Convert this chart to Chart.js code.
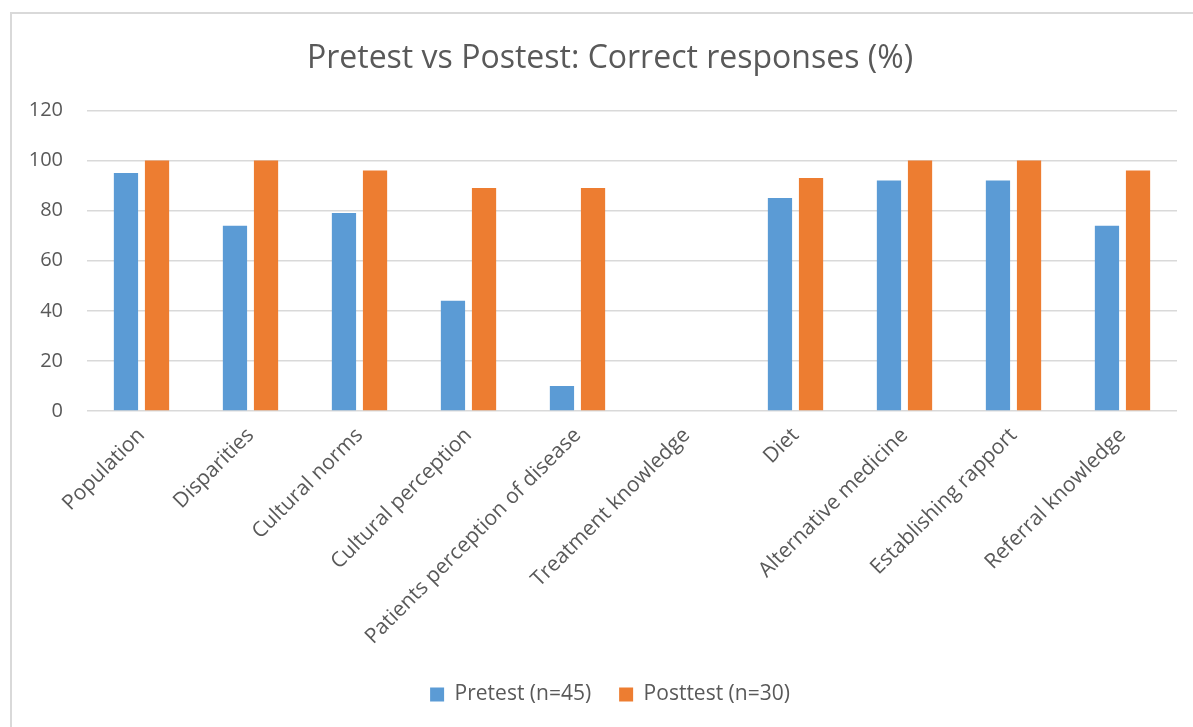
<!DOCTYPE html>
<html>
<head>
<meta charset="utf-8">
<script src="https://cdn.jsdelivr.net/npm/chart.js@4"></script>
<style>
  html, body { margin: 0; padding: 0; background: #fff; overflow: hidden; }
  #frame { position: absolute; left: 10px; top: 12px; width: 1300px; height: 800px;
           border-left: 2px solid #d9d9d9; border-top: 2px solid #d9d9d9; }
  #wrap { position: absolute; left: 10px; top: 0; width: 1200px; height: 727px; }
</style>
</head>
<body>
<div id="frame"></div>
<div id="wrap"><canvas id="chart"></canvas></div>
<script>
// categories and values
const categories = ['Population', 'Disparities', 'Cultural norms', 'Cultural perception',
  'Patients perception of disease', 'Treatment knowledge', 'Diet', 'Alternative medicine',
  'Establishing rapport', 'Referral knowledge'];
const pretest = [95, 74, 79, 44, 10, 0, 85, 92, 92, 74];
const posttest = [100, 100, 96, 89, 89, 0, 93, 100, 100, 96];
const yTicks = [0, 20, 40, 60, 80, 100, 120];

const grey = '#595959';

new Chart(document.getElementById('chart'), {
    type: 'bar',
    data: {
        labels: categories,
        datasets: [{
            label: 'Pretest (n=45)',
            data: pretest,
            backgroundColor: '#5b9bd5',
            categoryPercentage: 0.57,
            barPercentage: 0.78
        }, {
            label: 'Posttest (n=30)',
            data: posttest,
            backgroundColor: '#ed7d31',
            categoryPercentage: 0.57,
            barPercentage: 0.78
        }]
    },
    options: {
        responsive: true,
        maintainAspectRatio: false,
        animation: false,
        layout: { padding: { left: 0, right: 0, top: 0, bottom: 12 } },
        plugins: {
            title: {
                display: true,
                text: 'Pretest vs Postest: Correct responses (%)',
                color: grey,
                font: { family: 'Open Sans', size: 32, weight: 'normal' },
                padding: { top: 40, bottom: 32 }
            },
            legend: {
                position: 'bottom',
                labels: {
                    color: grey,
                    boxWidth: 14,
                    boxHeight: 14,
                    padding: 28,
                    font: { family: 'Open Sans', size: 21 }
                }
            },
            tooltip: { enabled: false }
        },
        scales: {
            x: {
                grid: { display: false },
                border: { display: false },
                afterFit: function(scale) { scale.height = 245; },
                ticks: {
                    color: grey,
                    maxRotation: 45,
                    minRotation: 45,
                    padding: 4,
                    font: { family: 'Open Sans', size: 21 }
                }
            },
            y: {
                min: 0,
                max: 120,
                afterBuildTicks: function(scale) {
                    scale.ticks = yTicks.map(v => ({ value: v }));
                },
                afterFit: function(scale) { scale.width = 77; },
                grid: { color: '#d9d9d9', lineWidth: 1.5, drawTicks: false },
                border: { display: false },
                ticks: {
                    color: grey,
                    padding: 24,
                    font: { family: 'Open Sans', size: 20 }
                }
            },
            // empty right-hand axis, only reserves the margin right of the plot
            yRight: {
                position: 'right',
                min: 0,
                max: 120,
                grid: { display: false },
                border: { display: false },
                ticks: { display: false },
                afterFit: function(scale) { scale.width = 33; }
            }
        }
    }
});
</script>
</body>
</html>
